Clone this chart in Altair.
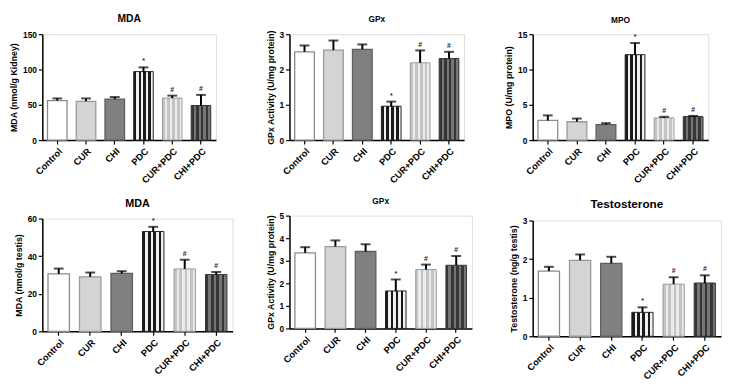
import altair as alt
import pandas as pd

groups = ["Control", "CUR", "CHI", "PDC", "CUR+PDC", "CHI+PDC"]
sig = ["", "", "", "*", "#", "#"]

mda_kidney_mean = [56, 55, 58, 97, 59.5, 49]
mda_kidney_top = [59, 59, 61, 103, 63, 64]

gpx_kidney_mean = [2.5, 2.55, 2.57, 0.96, 2.19, 2.31]
gpx_kidney_top = [2.68, 2.82, 2.71, 1.09, 2.54, 2.50]

mpo_mean = [2.78, 2.6, 2.2, 12.1, 3.15, 3.33]
mpo_top = [3.5, 3.05, 2.4, 13.75, 3.3, 3.43]

mda_testis_mean = [30.6, 29.0, 30.8, 53.1, 33.2, 30.2]
mda_testis_top = [33.4, 31.3, 32.0, 55.6, 38.1, 31.6]

gpx_testis_mean = [3.35, 3.63, 3.41, 1.66, 2.61, 2.80]
gpx_testis_top = [3.60, 3.90, 3.73, 2.17, 2.83, 3.21]

testo_mean = [1.69, 1.97, 1.89, 0.62, 1.35, 1.38]
testo_top = [1.80, 2.12, 2.06, 0.75, 1.53, 1.58]

FONT = "Liberation Sans"


def stripes(c1, c2, n=8):
    stops = []
    for i in range(n):
        c = c1 if i % 2 == 0 else c2
        stops.append(alt.GradientStop(offset=i / n, color=c))
        stops.append(alt.GradientStop(offset=(i + 1) / n, color=c))
    return alt.Gradient(gradient="linear", stops=stops, x1=0, x2=1, y1=0, y2=0)


solid_colors = {"Control": "#ffffff", "CUR": "#d4d4d4", "CHI": "#808080"}
pattern_fills = {
    "PDC": stripes("#1a1a1a", "#f0f0f0"),
    "CUR+PDC": stripes("#c4c4c4", "#ebebeb"),
    "CHI+PDC": stripes("#363636", "#767676"),
}
strokes = {"Control": "#8a8a8a", "CUR": "#9a9a9a", "CHI": "#5e5e5e",
           "PDC": "#222222", "CUR+PDC": "#9a9a9a", "CHI+PDC": "#333333"}


def panel(title, tsize, ytitle, ymax, ystep, mean, top, width, height):
    df = pd.DataFrame({"group": groups, "mean": mean, "top": top, "sig": sig,
                       "stroke": [strokes[g] for g in groups]})
    xaxis = alt.Axis(labelAngle=-45, labelFont=FONT, labelFontWeight="bold",
                     labelFontSize=9.5, labelColor="black", domainColor="black",
                     domainWidth=1.5, tickColor="black", tickWidth=1.2,
                     tickSize=4, labelPadding=2)
    yaxis = alt.Axis(values=[v for v in range(0, ymax + 1, ystep)], grid=False,
                     labelFont=FONT, labelFontWeight="bold", labelFontSize=8.5,
                     labelColor="black", titleFont=FONT, titleFontWeight="bold",
                     titleFontSize=9, titleColor="black", domainColor="black",
                     domainWidth=1.5, tickColor="black", tickWidth=1.2,
                     tickSize=4, titlePadding=4, labelPadding=2)
    xscale = alt.Scale(paddingInner=0.32, paddingOuter=0.18)
    yscale = alt.Scale(domain=[0, ymax], nice=False)

    def X():
        return alt.X("group:N", sort=groups, title=None, scale=xscale, axis=xaxis)

    def Y(field):
        return alt.Y(field, type="quantitative", title=ytitle, scale=yscale, axis=yaxis)

    base = alt.Chart(df)
    solid = base.transform_filter(
        alt.FieldOneOfPredicate(field="group", oneOf=list(solid_colors))
    ).mark_bar(strokeWidth=1.3).encode(
        x=X(), y=Y("mean"),
        fill=alt.Fill("group:N", legend=None,
                      scale=alt.Scale(domain=list(solid_colors), range=list(solid_colors.values()))),
        stroke=alt.Stroke("stroke:N", scale=None),
    )
    layers = [solid]
    for g, grad in pattern_fills.items():
        layers.append(
            base.transform_filter(alt.datum.group == g)
            .mark_bar(fill=grad, stroke=strokes[g], strokeWidth=1.0)
            .encode(x=X(), y=Y("mean"))
        )
    err = base.mark_rule(color="black", strokeWidth=2).encode(
        x=X(), y=Y("mean"), y2="top:Q")
    cap = base.mark_tick(color="black", thickness=2, size=10, orient="horizontal").encode(
        x=X(), y=Y("top"))
    txt = base.mark_text(font=FONT, fontSize=7, fontWeight="bold", color="#222222",
                         dy=-6).encode(x=X(), y=Y("top"), text="sig:N")
    layers += [err, cap, txt]
    return alt.layer(*layers).properties(
        width=width, height=height,
        title=alt.TitleParams(title, font=FONT, fontWeight="bold", fontSize=tsize,
                              color="black", anchor="middle", offset=6),
    )


p1 = panel("MDA", 10.5, "MDA (nmol/g Kidney)", 150, 50, mda_kidney_mean, mda_kidney_top, 177, 108)
p2 = panel("GPx", 8.5, "GPx Activity (U/mg protein)", 3, 1, gpx_kidney_mean, gpx_kidney_top, 178, 108)
p3 = panel("MPO", 8.5, "MPO (U/mg protein)", 15, 5, mpo_mean, mpo_top, 179, 108)
p4 = panel("MDA", 11, "MDA (nmol/g testis)", 60, 20, mda_testis_mean, mda_testis_top, 194, 115)
p5 = panel("GPx", 8.5, "GPx Activity (U/mg protein)", 5, 1, gpx_testis_mean, gpx_testis_top, 186, 115)
p6 = panel("Testosterone", 12, "Testosterone (ng/g testis)", 3, 1, testo_mean, testo_top, 192, 118)

col1 = alt.vconcat(p1, p4, spacing=12)
col2 = alt.vconcat(p2, p5, spacing=12)
col3 = alt.vconcat(p3, p6, spacing=12)
chart = alt.hconcat(col1, col2, col3, spacing=32).configure_view(stroke=None).configure(
    background="white", padding={"left": 1, "top": 2, "right": 0, "bottom": 0})

chart.save("out.html", embed_options={"renderer": "svg", "actions": False})
